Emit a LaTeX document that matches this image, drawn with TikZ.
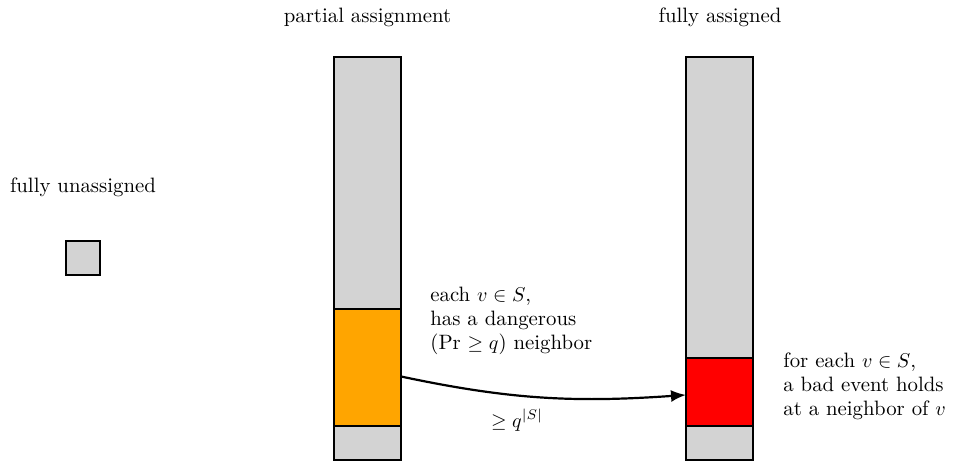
\documentclass[tikz,border=0pt]{standalone}
\usetikzlibrary{arrows.meta}
\definecolor{cgray}{RGB}{211,211,211}
\definecolor{corange}{RGB}{255,165,0}
\definecolor{cred}{RGB}{255,0,0}
\begin{document}
\begin{tikzpicture}[x=0.5pt,y=-0.5pt,
  font=\fontsize{10.4pt}{12pt}\selectfont,
  box/.style={draw=black,line width=1.1pt,inner sep=0pt,outer sep=0pt},
  lbl/.style={inner sep=0pt},
  multi/.style={inner sep=0pt,align=left,anchor=north west}]
\useasboundingbox (0,0) rectangle (956,465);
% small box
\node[box,fill=cgray,minimum width=17pt,minimum height=17pt] (small) at (83,258) {};
% left column
\node[box,fill=cgray,minimum width=33.5pt,minimum height=201.5pt] (left) at (367.5,258.5) {};
\node[box,fill=corange,minimum width=33.5pt,minimum height=58.5pt] (orange) at (367.5,367.5) {};
% right column
\node[box,fill=cgray,minimum width=33.5pt,minimum height=201.5pt] (right) at (719.5,258.5) {};
\node[box,fill=cred,minimum width=33.5pt,minimum height=34pt] (red) at (719.5,392) {};
% labels
\node[lbl,anchor=base] (t1) at (367.5,23) {partial assignment};
\node[lbl,anchor=base] (t2) at (720,23) {fully assigned};
\node[lbl,anchor=base] (t3) at (83,192) {fully unassigned};
\node[multi] (d1) at (430,287) {each $v\in S$,\\has a dangerous\\(Pr $\geq q$) neighbor};
\node[multi] (d2) at (783,352) {for each $v\in S$,\\a bad event holds\\at a neighbor of $v$};
\node[lbl,anchor=base] (q) at (517,427) {$\geq q^{|S|}$};
% arrow
\draw[line width=1.1pt,-{Latex[length=7.5pt,width=6pt]}] (orange.-15) to[out=-12,in=184] (red.185);
\end{tikzpicture}
\end{document}
